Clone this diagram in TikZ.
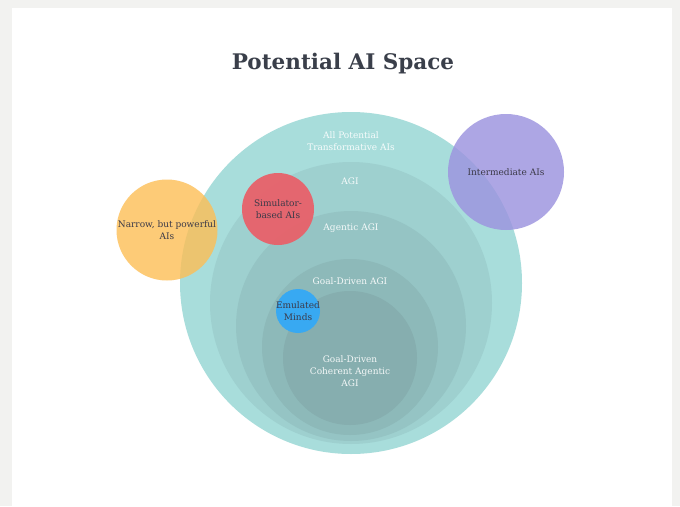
\documentclass[tikz,border=0pt]{standalone}
\usepackage{fontspec}
\setmainfont{DejaVu Serif}
\usetikzlibrary{positioning}

\definecolor{pagegray}{HTML}{F2F2F0}
\definecolor{titlegray}{HTML}{3A3F4A}
\definecolor{inkgray}{HTML}{3C3A48}
\definecolor{teal1}{HTML}{A8DDDB}
\definecolor{teal2}{HTML}{9ED0CF}
\definecolor{teal3}{HTML}{95C4C4}
\definecolor{teal4}{HTML}{8DB9B9}
\definecolor{teal5}{HTML}{86AEAF}
\definecolor{narroworange}{HTML}{FDBE55}
\definecolor{simred}{HTML}{E8616A}
\definecolor{midpurple}{HTML}{9C93DF}
\definecolor{emublue}{HTML}{38A9F2}

\begin{document}
\begin{tikzpicture}[x=1pt,y=-1pt,
    ring/.style={circle,inner sep=0pt,draw=none},
    white text/.style={text=white,text opacity=.9,font=\fontsize{9}{12}\selectfont,align=center},
    dark text/.style={text=inkgray,font=\fontsize{9}{12}\selectfont,align=center}]

  % page and panel
  \fill[pagegray] (0,0) rectangle (680,506);
  \fill[white] (12,8) rectangle (672,506);
  \useasboundingbox (0,0) rectangle (680,506);

  \node[text=titlegray,font=\fontsize{21.5}{24}\selectfont\bfseries] (title) at (343,64) {Potential AI Space};

  % nested teal circles
  \node[ring,fill=teal1,minimum size=342pt] (all) at (351,283) {};
  \node[ring,fill=teal2,minimum size=282pt] (agi) at (351,303) {};
  \node[ring,fill=teal3,minimum size=230pt] (agentic) at (351,326) {};
  \node[ring,fill=teal4,minimum size=176pt] (goal) at (350,347) {};
  \node[ring,fill=teal5,minimum size=134pt] (coherent) at (350,358) {};

  \node[white text] (alllabel) at (351,141) {All Potential\\Transformative AIs};
  \node[white text] (agilabel) at (350,181) {AGI};
  \node[white text] (agenticlabel) at (351,228) {Agentic AGI};
  \node[white text] (goallabel) at (350,281) {Goal-Driven AGI};
  \node[white text] (coherentlabel) at (350,371) {Goal-Driven\\Coherent Agentic\\AGI};

  % outside and overlapping kinds
  \node[ring,fill=narroworange,fill opacity=.8,minimum size=101pt] (narrow) at (167,230) {};
  \node[dark text] at (narrow) {Narrow, but powerful\\AIs};
  \node[ring,fill=simred,fill opacity=.95,minimum size=72pt] (sim) at (278,209) {};
  \node[dark text] at (sim) {Simulator-\\based AIs};
  \node[ring,fill=midpurple,fill opacity=.82,minimum size=116pt] (inter) at (506,172) {};
  \node[dark text] at (inter) {Intermediate AIs};
  \node[ring,fill=emublue,minimum size=44pt] (emu) at (298,311) {};
  \node[dark text] at (emu) {Emulated\\Minds};
\end{tikzpicture}
\end{document}
